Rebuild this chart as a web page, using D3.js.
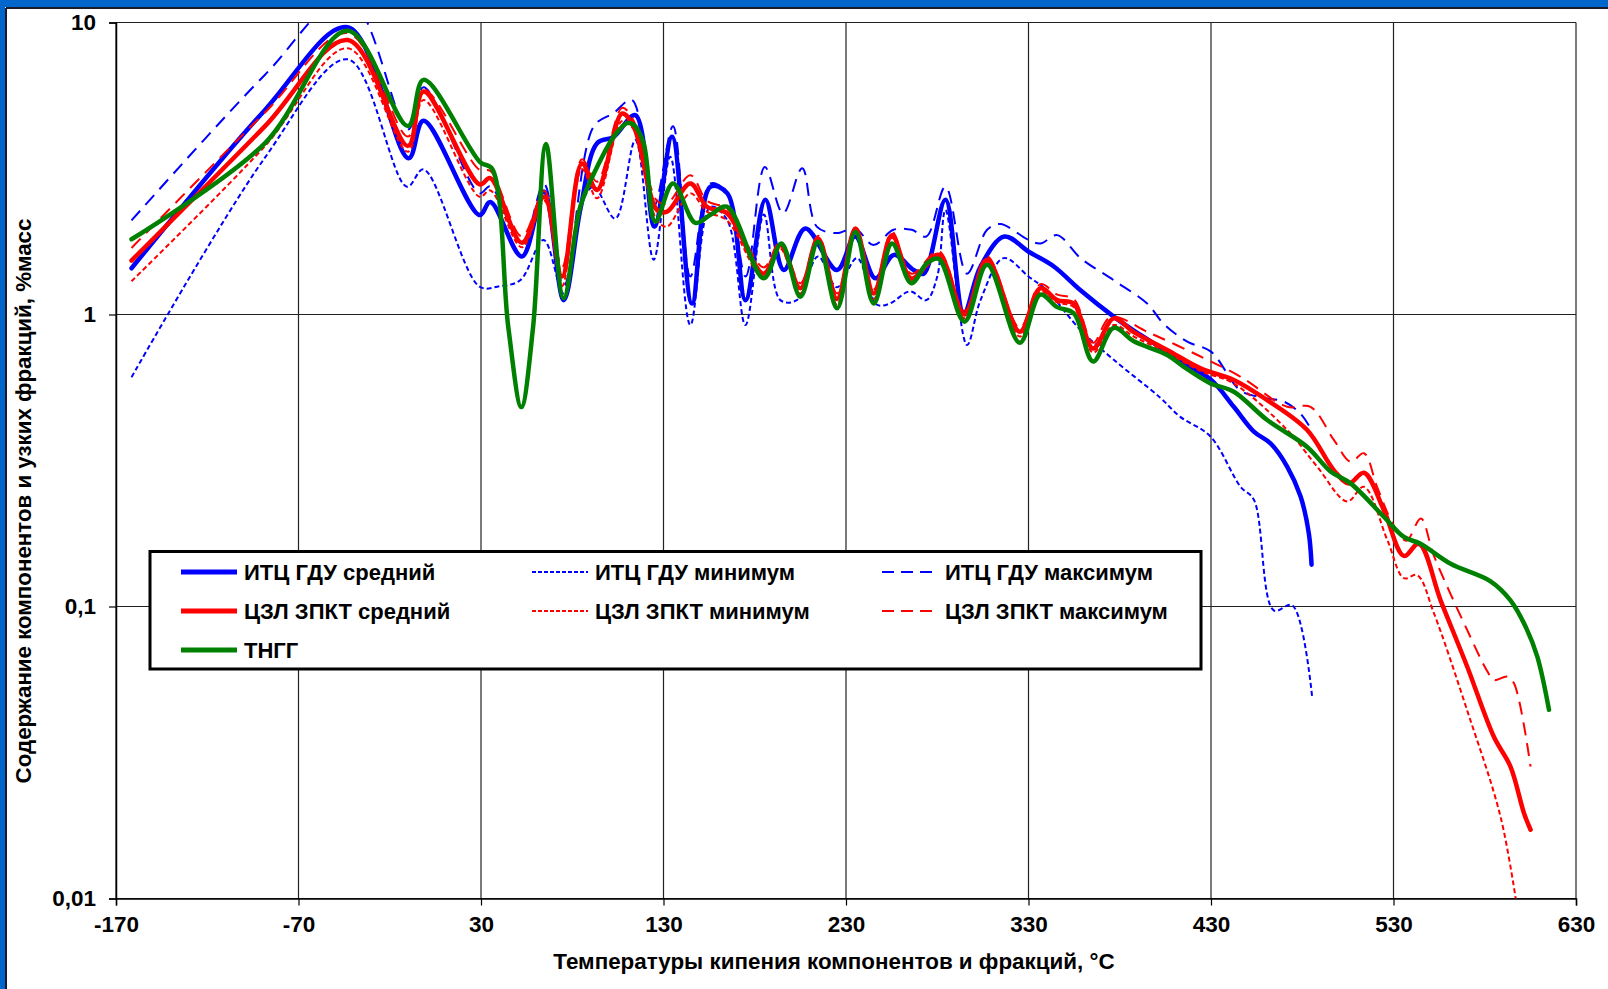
<!DOCTYPE html>
<html>
<head>
<meta charset="utf-8">
<script src="https://cdn.jsdelivr.net/npm/d3@7"></script>
<style>
  body { margin: 0; background: #fff; }
  svg { display: block; font-family: Arial, "Liberation Sans", sans-serif; font-weight: bold; }
</style>
</head>
<body>
<script>
// boiling temperature (°C) / content (% mass) pairs
var itcMean = [[-161.5,1.44],[-88.6,5.0],[-43,9.63],[-9.7,3.43],[-1.5,4.61],[29.2,2.19],[35.1,2.43],[52.4,1.58],[64.5,2.64],[75.3,1.12],[84.5,2.3],[93.6,3.86],[102.7,4.06],[114.6,4.82],[125,2.0],[134.7,4.06],[145.6,1.09],[155.7,2.74],[165,2.6],[174.9,1.12],[185.8,2.47],[195.9,1.42],[207.7,1.97],[225.1,1.42],[235,1.85],[246.1,1.33],[256.2,1.6],[267.1,1.42],[272.6,1.38],[284.5,2.47],[294.5,1.01],[303.7,1.46],[316.8,1.85],[330.1,1.64],[343.9,1.46],[358.5,1.21],[376.7,0.983],[387.7,0.88],[406,0.746],[417,0.67],[430.1,0.597],[442.5,0.483],[453.5,0.397],[462.6,0.362],[471.8,0.301],[479.1,0.238],[483.6,0.178],[485.1,0.139]];
var itcMin = [[-161.5,0.61],[-88.6,3.43],[-43,7.48],[-10.6,2.74],[-1.5,3.14],[29.2,1.245],[40,1.25],[51.5,1.31],[64.3,1.8],[75.3,1.18],[84.4,2.34],[91.7,2.74],[103.6,2.13],[114.6,3.96],[124.6,1.54],[133.7,3.47],[144.7,0.92],[155.7,2.34],[165,2.1],[174.9,0.92],[185,2.2],[194,1.12],[203,1.12],[214.7,1.58],[225,1.24],[236,1.56],[247,1.08],[254,1.09],[265,1.2],[274,1.12],[280,1.35],[284.5,2.28],[296.3,0.786],[303.7,1.12],[316.4,1.56],[330,1.35],[340,1.21],[358.5,0.885],[376.7,0.7],[402,0.52],[413,0.447],[429.7,0.382],[446.2,0.257],[453.5,0.232],[464.4,0.097],[474.5,0.101],[485.5,0.0485]];
var itcMax = [[-161.5,2.1],[-88.6,6.6],[-43,12.2],[-10,4.3],[-1.5,6.0],[29.2,2.6],[35.1,2.75],[52.4,1.75],[64.5,2.8],[75.3,1.25],[91.7,4.4],[102.7,4.9],[112.7,5.43],[124.6,2.34],[135.2,4.41],[144.7,1.35],[155.7,2.81],[165,2.6],[175,1.35],[185.5,3.2],[195.5,2.22],[206,3.17],[214,2.0],[225,1.9],[235,1.97],[245,1.73],[256,1.95],[266,1.95],[274,1.85],[284.5,2.74],[296.3,1.38],[307.3,1.95],[314.6,2.04],[330,1.8],[336.5,1.75],[345.7,1.87],[358.5,1.56],[376.7,1.31],[395,1.09],[404,0.93],[417,0.807],[430,0.746],[446,0.55],[458,0.52],[470,0.503],[479,0.458],[484,0.413]];
var zpktMean = [[-161.5,1.53],[-88.6,4.4],[-43,8.71],[-10,3.78],[-1.5,5.8],[29.2,2.79],[35.1,2.93],[52.4,1.76],[64.7,2.53],[74.4,1.35],[85.3,3.29],[93.6,2.67],[107.3,4.88],[113.7,4.4],[126.4,2.28],[132,2.25],[144.7,2.81],[153.8,2.34],[164.8,2.22],[184.9,1.38],[194,1.73],[205,1.23],[214.7,1.82],[225.1,1.13],[235.2,1.97],[245.2,1.18],[255.2,1.87],[265.8,1.33],[280.8,1.6],[294.9,1.0],[307.3,1.54],[325.2,0.873],[336.5,1.23],[345.7,1.12],[354.8,1.09],[365.4,0.765],[376.7,0.97],[387.7,0.87],[406,0.756],[424.3,0.654],[442.5,0.597],[460.8,0.509],[482.7,0.402],[497.3,0.293],[505.6,0.264],[513.8,0.287],[524.7,0.214],[535.7,0.149],[543.9,0.164],[555.8,0.105],[570.4,0.0622],[585,0.0358],[594.1,0.0283],[601.5,0.0196],[605.1,0.0172]];
var zpktMin = [[-161.5,1.3],[-88.6,3.76],[-43,8.16],[-10,3.61],[-1.5,5.43],[29.2,2.53],[35.1,2.66],[52.4,1.7],[64.7,2.45],[74.4,1.25],[85.3,3.15],[93.6,2.5],[107.3,4.6],[113.7,4.3],[126.4,2.1],[132,2.0],[144.7,2.6],[153.8,2.25],[164.8,2.1],[184.9,1.33],[194,1.68],[205,1.18],[214.7,1.78],[225.1,1.08],[235.2,1.93],[245.2,1.13],[255.2,1.83],[265.8,1.3],[280.8,1.57],[294.9,0.97],[307.3,1.5],[325.2,0.84],[336.5,1.2],[345.7,1.1],[354.8,1.06],[365.4,0.74],[376.7,0.92],[387.7,0.84],[406,0.74],[424.3,0.64],[442.5,0.58],[471.8,0.402],[488.2,0.301],[504.6,0.229],[513.8,0.257],[526.6,0.169],[535.7,0.125],[543,0.128],[552.1,0.095],[570.4,0.044],[588.7,0.019],[597.5,0.0095]];
var zpktMax = [[-161.5,1.69],[-88.6,4.9],[-43,9.2],[-10,4.07],[-1.5,5.9],[29.2,3.13],[35.1,3.1],[52.4,1.85],[64.7,2.65],[74.4,1.45],[85.3,3.4],[93.6,2.85],[107.3,5.1],[113.7,4.6],[126.4,2.45],[132,2.4],[144.7,3.0],[153.8,2.45],[164.8,2.3],[184.9,1.45],[194,1.78],[205,1.28],[214.7,1.86],[225.1,1.18],[235.2,2.0],[245.2,1.22],[255.2,1.92],[265.8,1.38],[280.8,1.65],[294.9,1.03],[307.3,1.58],[325.2,0.9],[336.5,1.27],[345.7,1.17],[354.8,1.13],[365.4,0.8],[375,0.98],[396.8,0.862],[424.3,0.718],[446.2,0.612],[471.8,0.483],[484.5,0.483],[497.3,0.372],[506.5,0.313],[513.8,0.335],[521,0.257],[530,0.19],[537,0.168],[545,0.2],[552,0.15],[570.4,0.083],[581.4,0.06],[585,0.056],[592.3,0.0575],[596,0.0546],[605.1,0.0283]];
var tngg = [[-161.5,1.81],[-88.6,3.85],[-43,9.37],[-10,4.42],[-1.5,6.36],[29.6,3.32],[36,3.16],[45,0.9],[52.1,0.482],[58.5,0.9],[65.6,3.84],[75.3,1.136],[84.4,2.34],[93.6,3.2],[102.7,4.06],[110,4.52],[113.7,4.46],[119.1,3.86],[125.5,2.08],[135.2,2.81],[147.5,2.06],[156,2.2],[164.8,2.34],[184.9,1.33],[194.6,1.75],[205,1.15],[214.7,1.78],[225.1,1.05],[235.2,1.92],[245.2,1.09],[255.2,1.75],[265.8,1.28],[274.4,1.5],[280.8,1.55],[294.9,0.945],[307.3,1.48],[325.2,0.8],[336.5,1.17],[345.7,1.06],[354.8,1.01],[365.4,0.69],[376.7,0.9],[387.7,0.81],[406,0.727],[415.1,0.662],[429.7,0.581],[442.5,0.544],[460.8,0.435],[482.7,0.352],[495.5,0.29],[506.5,0.264],[524.7,0.203],[535.7,0.173],[544.8,0.164],[561.3,0.14],[583.2,0.122],[594.1,0.105],[602.4,0.0853],[608.8,0.0673],[615.2,0.0443]];

var seriesNames = ["ИТЦ ГДУ средний", "ИТЦ ГДУ минимум", "ИТЦ ГДУ максимум",
                   "ЦЗЛ ЗПКТ средний", "ЦЗЛ ЗПКТ минимум", "ЦЗЛ ЗПКТ максимум", "ТНГГ"];
var xTicks = [-170, -70, 30, 130, 230, 330, 430, 530, 630];
var yTicks = [0.01, 0.1, 1, 10];
var yTickLabels = ["0,01", "0,1", "1", "10"];
var xTitle = "Температуры кипения компонентов и фракций, °C";
var yTitle = "Содержание компонентов и узких фракций, %масс";

// set the dimensions and margins of the graph
var W = 1608, H = 989;
var margin = {top: 22.5, right: 32, bottom: 90.5, left: 116};

var x = d3.scaleLinear().domain([-170, 630]).range([margin.left, W - margin.right]);
var y = d3.scaleLog().domain([0.01, 10]).range([H - margin.bottom, margin.top]);

var series = [
  {data: itcMean,  color: "#0000ff", width: 4.5, dash: null},
  {data: itcMin,   color: "#0000ff", width: 2,   dash: "5,3"},
  {data: itcMax,   color: "#0000ff", width: 2,   dash: "13,8"},
  {data: zpktMean, color: "#ff0000", width: 4.5, dash: null},
  {data: zpktMin,  color: "#ff0000", width: 2,   dash: "5,3"},
  {data: zpktMax,  color: "#ff0000", width: 2,   dash: "13,8"},
  {data: tngg,     color: "#008000", width: 4.5, dash: null}
];

var svg = d3.select("body").append("svg")
    .attr("width", W)
    .attr("height", H);

// blue frame on top and left
svg.append("rect").attr("x", 0).attr("y", 0).attr("width", W).attr("height", 7).attr("fill", "#0066cc");
svg.append("rect").attr("x", 0).attr("y", 0).attr("width", 5).attr("height", H).attr("fill", "#0066cc");
svg.append("line").attr("x1", 6).attr("x2", W).attr("y1", 8).attr("y2", 8).attr("stroke", "#1a1a2a").attr("stroke-width", 2);
svg.append("line").attr("x1", 6).attr("x2", 6).attr("y1", 8).attr("y2", H).attr("stroke", "#1a1a2a").attr("stroke-width", 2);

// grid
var grid = svg.append("g");
grid.selectAll("line.v").data(xTicks).enter().append("line")
    .attr("x1", function(d) { return x(d); })
    .attr("x2", function(d) { return x(d); })
    .attr("y1", y(10)).attr("y2", y(0.01))
    .attr("stroke", "#222").attr("stroke-width", 1.2);
grid.selectAll("line.h").data(yTicks).enter().append("line")
    .attr("x1", x(-170)).attr("x2", x(630))
    .attr("y1", function(d) { return y(d); })
    .attr("y2", function(d) { return y(d); })
    .attr("stroke", "#222").attr("stroke-width", 1.2);

// axes
var xAxis = svg.append("g")
    .attr("transform", "translate(0," + y(0.01) + ")")
    .call(d3.axisBottom(x).tickValues(xTicks).tickSize(7).tickPadding(11)
      .tickFormat(function(d) { return String(d); }));
var yAxis = svg.append("g")
    .attr("transform", "translate(" + x(-170) + ",0)")
    .call(d3.axisLeft(y).tickValues(yTicks).tickSize(7).tickPadding(13)
      .tickFormat(function(d, i) { return yTickLabels[i]; }));
[xAxis, yAxis].forEach(function(a) {
  a.select(".domain").attr("stroke", "#000").attr("stroke-width", 1.5);
  a.selectAll(".tick line").attr("stroke", "#000").attr("stroke-width", 1.2);
  a.selectAll("text").attr("fill", "#000").style("font-size", "22.5px").style("font-weight", "bold")
    .style("font-family", "Arial, 'Liberation Sans', sans-serif");
});

// clip
svg.append("clipPath").attr("id", "plot-clip").append("rect")
    .attr("x", x(-170)).attr("y", y(10))
    .attr("width", x(630) - x(-170)).attr("height", y(0.01) - y(10));

var line = d3.line()
    .x(function(d) { return x(d[0]); })
    .y(function(d) { return y(d[1]); })
    .curve(d3.curveCatmullRom.alpha(0.5));

var lines = svg.append("g").attr("clip-path", "url(#plot-clip)");
series.forEach(function(s) {
  lines.append("path")
      .datum(s.data)
      .attr("fill", "none")
      .attr("stroke", s.color)
      .attr("stroke-width", s.width)
      .attr("stroke-dasharray", s.dash)
      .attr("stroke-linejoin", "round")
      .attr("stroke-linecap", s.dash ? "butt" : "round")
      .attr("d", line);
});

// axis titles
svg.append("text")
    .attr("x", 834).attr("y", 969)
    .attr("text-anchor", "middle")
    .style("font-size", "22.4px")
    .text(xTitle);
svg.append("text")
    .attr("transform", "translate(31,501) rotate(-90)")
    .attr("text-anchor", "middle")
    .style("font-size", "22.3px")
    .text(yTitle);

// legend
var legend = svg.append("g");
legend.append("rect")
    .attr("x", 150).attr("y", 551.5).attr("width", 1051).attr("height", 117.5)
    .attr("fill", "#fff").attr("stroke", "#000").attr("stroke-width", 3);
var colX = [181, 532, 882];
var rowY = [572, 611, 650];
series.forEach(function(s, i) {
  var cx = colX[i % 3], cy = rowY[Math.floor(i / 3)];
  legend.append("line")
      .attr("x1", cx).attr("x2", cx + 56)
      .attr("y1", cy).attr("y2", cy)
      .attr("stroke", s.color)
      .attr("stroke-width", s.dash ? 2 : 5)
      .attr("stroke-dasharray", s.dash ? (i % 3 === 1 ? "4,2" : "12,7") : null);
  legend.append("text")
      .attr("x", cx + 63).attr("y", cy + 7.5)
      .style("font-size", "22px")
      .text(seriesNames[i]);
});
</script>
</body>
</html>
